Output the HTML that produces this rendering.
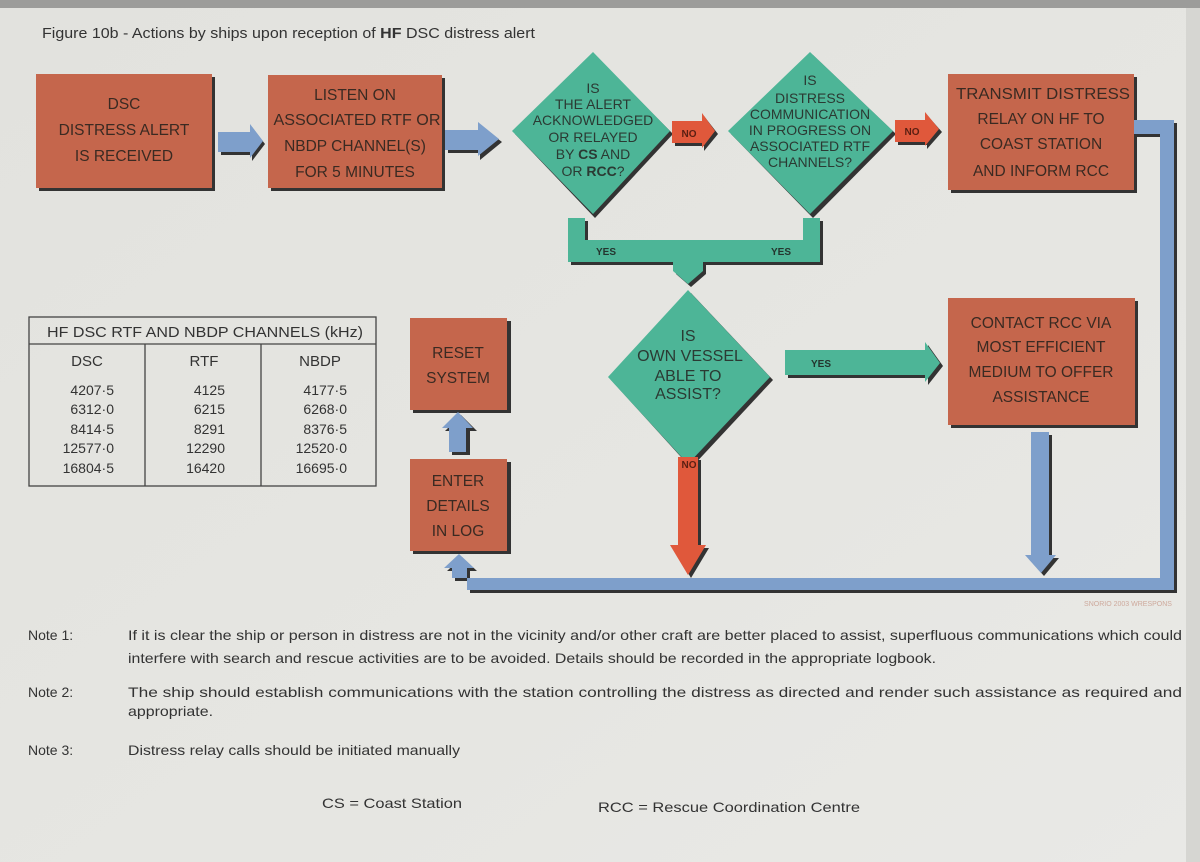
<!DOCTYPE html>
<html><head><meta charset="utf-8"><style>
html,body{margin:0;padding:0;background:#e3e3df;}
svg{display:block;font-family:"Liberation Sans",sans-serif;}
</style></head><body>
<svg width="1200" height="862" viewBox="0 0 1200 862" xmlns="http://www.w3.org/2000/svg">
<defs>
<linearGradient id="bg" x1="0" y1="0" x2="1" y2="1">
<stop offset="0" stop-color="#e2e2de"/><stop offset="0.6" stop-color="#e6e6e2"/><stop offset="1" stop-color="#e9e9e6"/>
</linearGradient>
</defs>
<rect width="1200" height="862" fill="url(#bg)"/>
<rect width="1200" height="8" fill="#9c9c9a"/>
<rect x="1186" y="8" width="14" height="854" fill="#d6d6d2"/>

<text x="42" y="38" font-size="15" fill="#333" textLength="493" lengthAdjust="spacingAndGlyphs">Figure 10b - Actions by ships upon reception of <tspan font-weight="bold">HF</tspan> DSC distress alert</text>

<g fill="#333">
<rect x="39" y="77" width="176" height="114"/>
<rect x="271" y="78" width="174" height="113"/>
<rect x="951" y="77" width="186" height="116"/>
<rect x="951" y="301" width="187" height="127"/>
<rect x="413" y="321" width="98" height="92"/>
<rect x="413" y="462" width="98" height="92"/>
</g>
<g fill="#c5664c">
<rect x="36" y="74" width="176" height="114"/>
<rect x="268" y="75" width="174" height="113"/>
<rect x="948" y="74" width="186" height="116"/>
<rect x="948" y="298" width="187" height="127"/>
<rect x="410" y="318" width="97" height="92"/>
<rect x="410" y="459" width="97" height="92"/>
</g>

<g font-size="15.5" fill="#3a2a22" text-anchor="middle">
<text x="124" y="109">DSC</text>
<text x="124" y="135">DISTRESS ALERT</text>
<text x="124" y="161">IS RECEIVED</text>
<text x="355" y="100">LISTEN ON</text>
<text x="357" y="125" textLength="167" lengthAdjust="spacingAndGlyphs">ASSOCIATED RTF OR</text>
<text x="355" y="151">NBDP CHANNEL(S)</text>
<text x="355" y="177">FOR 5 MINUTES</text>
<text x="1043" y="99" textLength="174" lengthAdjust="spacingAndGlyphs">TRANSMIT DISTRESS</text>
<text x="1041" y="124">RELAY ON HF TO</text>
<text x="1041" y="149">COAST STATION</text>
<text x="1041" y="176">AND INFORM RCC</text>
<text x="1041" y="328">CONTACT RCC VIA</text>
<text x="1041" y="352">MOST EFFICIENT</text>
<text x="1041" y="377">MEDIUM TO OFFER</text>
<text x="1041" y="402">ASSISTANCE</text>
<text x="458" y="358">RESET</text>
<text x="458" y="383">SYSTEM</text>
<text x="458" y="486">ENTER</text>
<text x="458" y="511">DETAILS</text>
<text x="458" y="536">IN LOG</text>
</g>

<g fill="#333">
<polygon points="221,135 252,135 252,127 265,144 252,161 252,155 221,155"/>
<polygon points="448,133 480,133 480,125 502,142 480,160 480,153 448,153"/>
</g>
<g fill="#7e9fcb">
<polygon points="218,132 250,132 250,124 263,141 250,158 250,152 218,152"/>
<polygon points="445,130 478,130 478,122 499,139 478,156 478,150 445,150"/>
</g>

<g fill="#333">
<polygon points="595,55 673,134 595,218 515,134"/>
<polygon points="813,55 896,134 813,218 731,134"/>
<polygon points="691,293 773,380 691,468 611,380"/>
</g>
<g fill="#4db597">
<polygon points="593,52 670,131 593,214 512,131"/>
<polygon points="810,52 893,131 810,214 728,131"/>
<polygon points="688,290 770,377 688,464 608,377"/>
</g>
<g font-size="14" fill="#2b3a33" text-anchor="middle">
<text x="593" y="93">IS</text>
<text x="593" y="109">THE ALERT</text>
<text x="593" y="125">ACKNOWLEDGED</text>
<text x="593" y="142">OR RELAYED</text>
<text x="593" y="159">BY <tspan font-weight="bold">CS</tspan> AND</text>
<text x="593" y="176">OR <tspan font-weight="bold">RCC</tspan>?</text>
<text x="810" y="85">IS</text>
<text x="810" y="103">DISTRESS</text>
<text x="810" y="119">COMMUNICATION</text>
<text x="810" y="135">IN PROGRESS ON</text>
<text x="810" y="151">ASSOCIATED RTF</text>
<text x="810" y="167">CHANNELS?</text>
</g>
<g font-size="16" fill="#2b3a33" text-anchor="middle">
<text x="688" y="341">IS</text>
<text x="690" y="361">OWN VESSEL</text>
<text x="688" y="381">ABLE TO</text>
<text x="688" y="399">ASSIST?</text>
</g>

<g fill="#333">
<polygon points="675,124 704,124 704,116 718,134 704,151 704,146 675,146"/>
<polygon points="898,123 927,123 927,115 942,132 927,149 927,145 898,145"/>
<polygon points="681,460 701,460 701,548 709,548 691,578 673,548 681,548"/>
</g>
<g fill="#e0583b">
<polygon points="672,121 702,121 702,113 715,131 702,148 702,143 672,143"/>
<polygon points="895,120 925,120 925,112 939,129 925,146 925,142 895,142"/>
<polygon points="678,457 698,457 698,545 706,545 688,575 670,545 678,545"/>
</g>
<g font-size="10" font-weight="bold" fill="#5a1f12" text-anchor="middle">
<text x="689" y="137">NO</text>
<text x="912" y="135">NO</text>
<text x="689" y="468">NO</text>
</g>

<polygon fill="#333" points="571,221 588,221 588,243 806,243 806,221 823,221 823,265 706,265 706,274 691,287 676,274 676,265 571,265"/>
<polygon fill="#4db597" points="568,218 585,218 585,240 803,240 803,218 820,218 820,262 703,262 703,271 688,284 673,271 673,262 568,262"/>
<g font-size="10" font-weight="bold" fill="#24352e" text-anchor="middle">
<text x="606" y="255">YES</text>
<text x="781" y="255">YES</text>
</g>

<polygon fill="#333" points="788,353 928,353 928,345 943,366 928,385 928,378 788,378"/>
<polygon fill="#4db597" points="785,350 925,350 925,342 940,363 925,382 925,375 785,375"/>
<text x="821" y="367" font-size="10" font-weight="bold" fill="#24352e" text-anchor="middle">YES</text>

<polygon fill="#333" points="1034,435 1052,435 1052,558 1059,558 1044,576 1028,558 1034,558"/>
<polygon fill="#7e9fcb" points="1031,432 1049,432 1049,555 1056,555 1041,573 1025,555 1031,555"/>

<polygon fill="#333" points="452,455 470,455 470,431 477,431 461,415 445,431 452,431"/>
<polygon fill="#7e9fcb" points="449,452 466,452 466,428 473,428 458,412 442,428 449,428"/>

<polygon fill="#333" points="1137,123 1177,123 1177,593 470,593 470,571 477,571 462,557 447,571 455,571 455,581 1162,581 1162,137 1137,137"/>
<polygon fill="#7e9fcb" points="1134,120 1174,120 1174,590 467,590 467,568 474,568 459,554 444,568 452,568 452,578 1160,578 1160,134 1134,134"/>
<text x="1128" y="606" font-size="7" fill="#c89a8a" text-anchor="middle" opacity="0.8">SNORIO 2003 WRESPONS</text>

<g fill="none" stroke="#444" stroke-width="1.3">
<rect x="29" y="317" width="347" height="169"/>
<line x1="29" y1="344" x2="376" y2="344"/>
<line x1="145" y1="344" x2="145" y2="486"/>
<line x1="261" y1="344" x2="261" y2="486"/>
</g>
<g font-size="15" fill="#333" text-anchor="middle">
<text x="205" y="337" textLength="316" lengthAdjust="spacingAndGlyphs">HF DSC RTF AND NBDP CHANNELS (kHz)</text>
<text x="87" y="366">DSC</text>
<text x="204" y="366">RTF</text>
<text x="320" y="366">NBDP</text>
</g>
<g font-size="14" fill="#333" text-anchor="end">
<text x="114" y="395">4207·5</text><text x="114" y="414">6312·0</text><text x="114" y="434">8414·5</text><text x="114" y="453">12577·0</text><text x="114" y="473">16804·5</text>
<text x="225" y="395">4125</text><text x="225" y="414">6215</text><text x="225" y="434">8291</text><text x="225" y="453">12290</text><text x="225" y="473">16420</text>
<text x="347" y="395">4177·5</text><text x="347" y="414">6268·0</text><text x="347" y="434">8376·5</text><text x="347" y="453">12520·0</text><text x="347" y="473">16695·0</text>
</g>

<g font-size="14" fill="#333">
<text x="28" y="640">Note 1:</text>
<text x="128" y="640" textLength="1054" lengthAdjust="spacingAndGlyphs">If it is clear the ship or person in distress are not in the vicinity and/or other craft are better placed to assist, superfluous communications which could</text>
<text x="128" y="663" textLength="808" lengthAdjust="spacingAndGlyphs">interfere with search and rescue activities are to be avoided. Details should be recorded in the appropriate logbook.</text>
<text x="28" y="697">Note 2:</text>
<text x="128" y="697" textLength="1054" lengthAdjust="spacingAndGlyphs">The ship should establish communications with the station controlling the distress as directed and render such assistance as required and</text>
<text x="128" y="716" textLength="85" lengthAdjust="spacingAndGlyphs">appropriate.</text>
<text x="28" y="755">Note 3:</text>
<text x="128" y="755" textLength="332" lengthAdjust="spacingAndGlyphs">Distress relay calls should be initiated manually</text>
<text x="322" y="808" textLength="140" lengthAdjust="spacingAndGlyphs">CS = Coast Station</text>
<text x="598" y="812" textLength="262" lengthAdjust="spacingAndGlyphs">RCC = Rescue Coordination Centre</text>
</g>
</svg>
</body></html>
